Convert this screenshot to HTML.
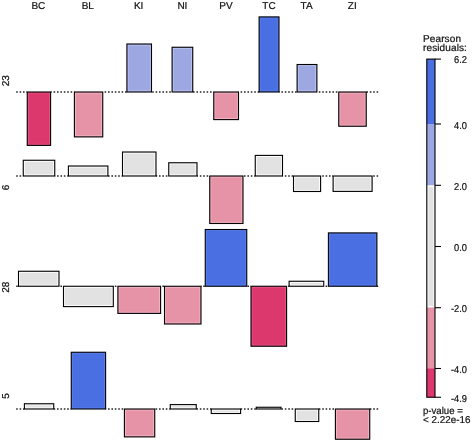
<!DOCTYPE html>
<html><head><meta charset="utf-8"><style>
html,body{margin:0;padding:0;background:#fff;}
body{width:472px;height:442px;overflow:hidden;}
svg{display:block;}
text{font-family:"Liberation Sans",sans-serif;font-size:10px;fill:#111;stroke:#111;stroke-width:0.22px;letter-spacing:0px;text-rendering:geometricPrecision;}
.t{will-change:transform;}
</style></head><body>
<svg width="472" height="442" viewBox="0 0 472 442">

<line x1="16.20" y1="92.0" x2="27.25" y2="92.0" stroke="#262626" stroke-width="1.5" stroke-dasharray="1.6 1.8" stroke-dashoffset="0.00"/>
<line x1="50.60" y1="92.0" x2="74.40" y2="92.0" stroke="#262626" stroke-width="1.5" stroke-dasharray="1.6 1.8" stroke-dashoffset="34.40"/>
<line x1="102.75" y1="92.0" x2="126.90" y2="92.0" stroke="#262626" stroke-width="1.5" stroke-dasharray="1.6 1.8" stroke-dashoffset="86.55"/>
<line x1="151.50" y1="92.0" x2="172.10" y2="92.0" stroke="#262626" stroke-width="1.5" stroke-dasharray="1.6 1.8" stroke-dashoffset="135.30"/>
<line x1="192.75" y1="92.0" x2="213.75" y2="92.0" stroke="#262626" stroke-width="1.5" stroke-dasharray="1.6 1.8" stroke-dashoffset="176.55"/>
<line x1="238.50" y1="92.0" x2="259.10" y2="92.0" stroke="#262626" stroke-width="1.5" stroke-dasharray="1.6 1.8" stroke-dashoffset="222.30"/>
<line x1="279.00" y1="92.0" x2="297.10" y2="92.0" stroke="#262626" stroke-width="1.5" stroke-dasharray="1.6 1.8" stroke-dashoffset="262.80"/>
<line x1="316.90" y1="92.0" x2="338.75" y2="92.0" stroke="#262626" stroke-width="1.5" stroke-dasharray="1.6 1.8" stroke-dashoffset="300.70"/>
<line x1="366.25" y1="92.0" x2="380.00" y2="92.0" stroke="#262626" stroke-width="1.5" stroke-dasharray="1.6 1.8" stroke-dashoffset="350.05"/>
<line x1="16.20" y1="176.0" x2="23.25" y2="176.0" stroke="#262626" stroke-width="1.5" stroke-dasharray="1.6 1.8" stroke-dashoffset="0.00"/>
<line x1="54.75" y1="176.0" x2="68.40" y2="176.0" stroke="#262626" stroke-width="1.5" stroke-dasharray="1.6 1.8" stroke-dashoffset="38.55"/>
<line x1="107.90" y1="176.0" x2="122.50" y2="176.0" stroke="#262626" stroke-width="1.5" stroke-dasharray="1.6 1.8" stroke-dashoffset="91.70"/>
<line x1="156.00" y1="176.0" x2="168.75" y2="176.0" stroke="#262626" stroke-width="1.5" stroke-dasharray="1.6 1.8" stroke-dashoffset="139.80"/>
<line x1="197.00" y1="176.0" x2="209.75" y2="176.0" stroke="#262626" stroke-width="1.5" stroke-dasharray="1.6 1.8" stroke-dashoffset="180.80"/>
<line x1="243.00" y1="176.0" x2="255.25" y2="176.0" stroke="#262626" stroke-width="1.5" stroke-dasharray="1.6 1.8" stroke-dashoffset="226.80"/>
<line x1="282.50" y1="176.0" x2="293.50" y2="176.0" stroke="#262626" stroke-width="1.5" stroke-dasharray="1.6 1.8" stroke-dashoffset="266.30"/>
<line x1="320.60" y1="176.0" x2="333.10" y2="176.0" stroke="#262626" stroke-width="1.5" stroke-dasharray="1.6 1.8" stroke-dashoffset="304.40"/>
<line x1="372.10" y1="176.0" x2="380.00" y2="176.0" stroke="#262626" stroke-width="1.5" stroke-dasharray="1.6 1.8" stroke-dashoffset="355.90"/>
<line x1="16.20" y1="286.25" x2="18.50" y2="286.25" stroke="#262626" stroke-width="1.5" stroke-dasharray="1.6 1.8" stroke-dashoffset="0.00"/>
<line x1="59.00" y1="286.25" x2="63.50" y2="286.25" stroke="#262626" stroke-width="1.5" stroke-dasharray="1.6 1.8" stroke-dashoffset="42.80"/>
<line x1="113.30" y1="286.25" x2="117.90" y2="286.25" stroke="#262626" stroke-width="1.5" stroke-dasharray="1.6 1.8" stroke-dashoffset="97.10"/>
<line x1="160.60" y1="286.25" x2="164.50" y2="286.25" stroke="#262626" stroke-width="1.5" stroke-dasharray="1.6 1.8" stroke-dashoffset="144.40"/>
<line x1="201.00" y1="286.25" x2="205.25" y2="286.25" stroke="#262626" stroke-width="1.5" stroke-dasharray="1.6 1.8" stroke-dashoffset="184.80"/>
<line x1="246.75" y1="286.25" x2="251.00" y2="286.25" stroke="#262626" stroke-width="1.5" stroke-dasharray="1.6 1.8" stroke-dashoffset="230.55"/>
<line x1="286.60" y1="286.25" x2="289.10" y2="286.25" stroke="#262626" stroke-width="1.5" stroke-dasharray="1.6 1.8" stroke-dashoffset="270.40"/>
<line x1="323.75" y1="286.25" x2="328.40" y2="286.25" stroke="#262626" stroke-width="1.5" stroke-dasharray="1.6 1.8" stroke-dashoffset="307.55"/>
<line x1="376.90" y1="286.25" x2="380.00" y2="286.25" stroke="#262626" stroke-width="1.5" stroke-dasharray="1.6 1.8" stroke-dashoffset="360.70"/>
<line x1="16.20" y1="409.0" x2="24.40" y2="409.0" stroke="#262626" stroke-width="1.5" stroke-dasharray="1.6 1.8" stroke-dashoffset="0.00"/>
<line x1="53.75" y1="409.0" x2="71.25" y2="409.0" stroke="#262626" stroke-width="1.5" stroke-dasharray="1.6 1.8" stroke-dashoffset="37.55"/>
<line x1="105.60" y1="409.0" x2="124.40" y2="409.0" stroke="#262626" stroke-width="1.5" stroke-dasharray="1.6 1.8" stroke-dashoffset="89.40"/>
<line x1="154.75" y1="409.0" x2="170.25" y2="409.0" stroke="#262626" stroke-width="1.5" stroke-dasharray="1.6 1.8" stroke-dashoffset="138.55"/>
<line x1="196.25" y1="409.0" x2="211.25" y2="409.0" stroke="#262626" stroke-width="1.5" stroke-dasharray="1.6 1.8" stroke-dashoffset="180.05"/>
<line x1="240.60" y1="409.0" x2="256.25" y2="409.0" stroke="#262626" stroke-width="1.5" stroke-dasharray="1.6 1.8" stroke-dashoffset="224.40"/>
<line x1="281.00" y1="409.0" x2="295.25" y2="409.0" stroke="#262626" stroke-width="1.5" stroke-dasharray="1.6 1.8" stroke-dashoffset="264.80"/>
<line x1="318.75" y1="409.0" x2="335.40" y2="409.0" stroke="#262626" stroke-width="1.5" stroke-dasharray="1.6 1.8" stroke-dashoffset="302.55"/>
<line x1="369.75" y1="409.0" x2="380.00" y2="409.0" stroke="#262626" stroke-width="1.5" stroke-dasharray="1.6 1.8" stroke-dashoffset="353.55"/>
<rect x="27.25" y="92" width="23.35" height="53.40" fill="#DC386E"/>
<rect x="28.35" y="93.10" width="21.15" height="51.20" fill="none" stroke="#E25582" stroke-width="0.9"/>
<rect x="27.25" y="92" width="23.35" height="53.40" fill="none" stroke="#000" stroke-width="1.1"/>
<rect x="74.4" y="92" width="28.35" height="44.90" fill="#E692A7"/>
<rect x="75.50" y="93.10" width="26.15" height="42.70" fill="none" stroke="#F2B6C6" stroke-width="0.9"/>
<rect x="74.4" y="92" width="28.35" height="44.90" fill="none" stroke="#000" stroke-width="1.1"/>
<rect x="126.9" y="44" width="24.60" height="48.00" fill="#9DA8E2"/>
<rect x="128.00" y="45.10" width="22.40" height="45.80" fill="none" stroke="#BFC6F0" stroke-width="0.9"/>
<rect x="126.9" y="44" width="24.60" height="48.00" fill="none" stroke="#000" stroke-width="1.1"/>
<rect x="172.1" y="47.25" width="20.65" height="44.75" fill="#9DA8E2"/>
<rect x="173.20" y="48.35" width="18.45" height="42.55" fill="none" stroke="#BFC6F0" stroke-width="0.9"/>
<rect x="172.1" y="47.25" width="20.65" height="44.75" fill="none" stroke="#000" stroke-width="1.1"/>
<rect x="213.75" y="92" width="24.75" height="27.60" fill="#E692A7"/>
<rect x="214.85" y="93.10" width="22.55" height="25.40" fill="none" stroke="#F2B6C6" stroke-width="0.9"/>
<rect x="213.75" y="92" width="24.75" height="27.60" fill="none" stroke="#000" stroke-width="1.1"/>
<rect x="259.1" y="16.9" width="19.90" height="75.10" fill="#4A6FE3"/>
<rect x="260.20" y="18.00" width="17.70" height="72.90" fill="none" stroke="#5A7EEA" stroke-width="0.9"/>
<rect x="259.1" y="16.9" width="19.90" height="75.10" fill="none" stroke="#000" stroke-width="1.1"/>
<rect x="297.1" y="64.5" width="19.80" height="27.50" fill="#9DA8E2"/>
<rect x="298.20" y="65.60" width="17.60" height="25.30" fill="none" stroke="#BFC6F0" stroke-width="0.9"/>
<rect x="297.1" y="64.5" width="19.80" height="27.50" fill="none" stroke="#000" stroke-width="1.1"/>
<rect x="338.75" y="92" width="27.50" height="34.25" fill="#E692A7"/>
<rect x="339.85" y="93.10" width="25.30" height="32.05" fill="none" stroke="#F2B6C6" stroke-width="0.9"/>
<rect x="338.75" y="92" width="27.50" height="34.25" fill="none" stroke="#000" stroke-width="1.1"/>
<rect x="23.25" y="160.25" width="31.50" height="15.75" fill="#E2E2E2"/>
<rect x="24.35" y="161.35" width="29.30" height="13.55" fill="none" stroke="#FFFFFF" stroke-width="0.9"/>
<rect x="23.25" y="160.25" width="31.50" height="15.75" fill="none" stroke="#000" stroke-width="1.1"/>
<rect x="68.4" y="166" width="39.50" height="10.00" fill="#E2E2E2"/>
<rect x="69.50" y="167.10" width="37.30" height="7.80" fill="none" stroke="#FFFFFF" stroke-width="0.9"/>
<rect x="68.4" y="166" width="39.50" height="10.00" fill="none" stroke="#000" stroke-width="1.1"/>
<rect x="122.5" y="152" width="33.50" height="24.00" fill="#E2E2E2"/>
<rect x="123.60" y="153.10" width="31.30" height="21.80" fill="none" stroke="#FFFFFF" stroke-width="0.9"/>
<rect x="122.5" y="152" width="33.50" height="24.00" fill="none" stroke="#000" stroke-width="1.1"/>
<rect x="168.75" y="162.75" width="28.25" height="13.25" fill="#E2E2E2"/>
<rect x="169.85" y="163.85" width="26.05" height="11.05" fill="none" stroke="#FFFFFF" stroke-width="0.9"/>
<rect x="168.75" y="162.75" width="28.25" height="13.25" fill="none" stroke="#000" stroke-width="1.1"/>
<rect x="209.75" y="176" width="33.25" height="47.50" fill="#E692A7"/>
<rect x="210.85" y="177.10" width="31.05" height="45.30" fill="none" stroke="#F2B6C6" stroke-width="0.9"/>
<rect x="209.75" y="176" width="33.25" height="47.50" fill="none" stroke="#000" stroke-width="1.1"/>
<rect x="255.25" y="155.4" width="27.25" height="20.60" fill="#E2E2E2"/>
<rect x="256.35" y="156.50" width="25.05" height="18.40" fill="none" stroke="#FFFFFF" stroke-width="0.9"/>
<rect x="255.25" y="155.4" width="27.25" height="20.60" fill="none" stroke="#000" stroke-width="1.1"/>
<rect x="293.5" y="176" width="27.10" height="15.50" fill="#E2E2E2"/>
<rect x="294.60" y="177.10" width="24.90" height="13.30" fill="none" stroke="#FFFFFF" stroke-width="0.9"/>
<rect x="293.5" y="176" width="27.10" height="15.50" fill="none" stroke="#000" stroke-width="1.1"/>
<rect x="333.1" y="176" width="39.00" height="15.40" fill="#E2E2E2"/>
<rect x="334.20" y="177.10" width="36.80" height="13.20" fill="none" stroke="#FFFFFF" stroke-width="0.9"/>
<rect x="333.1" y="176" width="39.00" height="15.40" fill="none" stroke="#000" stroke-width="1.1"/>
<rect x="18.5" y="271.25" width="40.50" height="15.00" fill="#E2E2E2"/>
<rect x="19.60" y="272.35" width="38.30" height="12.80" fill="none" stroke="#FFFFFF" stroke-width="0.9"/>
<rect x="18.5" y="271.25" width="40.50" height="15.00" fill="none" stroke="#000" stroke-width="1.1"/>
<rect x="63.5" y="286.25" width="49.80" height="20.35" fill="#E2E2E2"/>
<rect x="64.60" y="287.35" width="47.60" height="18.15" fill="none" stroke="#FFFFFF" stroke-width="0.9"/>
<rect x="63.5" y="286.25" width="49.80" height="20.35" fill="none" stroke="#000" stroke-width="1.1"/>
<rect x="117.9" y="286.25" width="42.70" height="27.15" fill="#E692A7"/>
<rect x="119.00" y="287.35" width="40.50" height="24.95" fill="none" stroke="#F2B6C6" stroke-width="0.9"/>
<rect x="117.9" y="286.25" width="42.70" height="27.15" fill="none" stroke="#000" stroke-width="1.1"/>
<rect x="164.5" y="286.25" width="36.50" height="37.75" fill="#E692A7"/>
<rect x="165.60" y="287.35" width="34.30" height="35.55" fill="none" stroke="#F2B6C6" stroke-width="0.9"/>
<rect x="164.5" y="286.25" width="36.50" height="37.75" fill="none" stroke="#000" stroke-width="1.1"/>
<rect x="205.25" y="229.5" width="41.50" height="56.75" fill="#4A6FE3"/>
<rect x="206.35" y="230.60" width="39.30" height="54.55" fill="none" stroke="#5A7EEA" stroke-width="0.9"/>
<rect x="205.25" y="229.5" width="41.50" height="56.75" fill="none" stroke="#000" stroke-width="1.1"/>
<rect x="251" y="286.25" width="35.60" height="60.00" fill="#DC386E"/>
<rect x="252.10" y="287.35" width="33.40" height="57.80" fill="none" stroke="#E25582" stroke-width="0.9"/>
<rect x="251" y="286.25" width="35.60" height="60.00" fill="none" stroke="#000" stroke-width="1.1"/>
<rect x="289.1" y="281.25" width="34.65" height="5.00" fill="#E2E2E2"/>
<rect x="290.20" y="282.35" width="32.45" height="2.80" fill="none" stroke="#FFFFFF" stroke-width="0.9"/>
<rect x="289.1" y="281.25" width="34.65" height="5.00" fill="none" stroke="#000" stroke-width="1.1"/>
<rect x="328.4" y="232.9" width="48.50" height="53.35" fill="#4A6FE3"/>
<rect x="329.50" y="234.00" width="46.30" height="51.15" fill="none" stroke="#5A7EEA" stroke-width="0.9"/>
<rect x="328.4" y="232.9" width="48.50" height="53.35" fill="none" stroke="#000" stroke-width="1.1"/>
<rect x="24.4" y="403.75" width="29.35" height="5.25" fill="#E2E2E2"/>
<rect x="25.50" y="404.85" width="27.15" height="3.05" fill="none" stroke="#FFFFFF" stroke-width="0.9"/>
<rect x="24.4" y="403.75" width="29.35" height="5.25" fill="none" stroke="#000" stroke-width="1.1"/>
<rect x="71.25" y="352.25" width="34.35" height="56.75" fill="#4A6FE3"/>
<rect x="72.35" y="353.35" width="32.15" height="54.55" fill="none" stroke="#5A7EEA" stroke-width="0.9"/>
<rect x="71.25" y="352.25" width="34.35" height="56.75" fill="none" stroke="#000" stroke-width="1.1"/>
<rect x="124.4" y="409" width="30.35" height="27.90" fill="#E692A7"/>
<rect x="125.50" y="410.10" width="28.15" height="25.70" fill="none" stroke="#F2B6C6" stroke-width="0.9"/>
<rect x="124.4" y="409" width="30.35" height="27.90" fill="none" stroke="#000" stroke-width="1.1"/>
<rect x="170.25" y="404.6" width="26.00" height="4.40" fill="#E2E2E2"/>
<rect x="171.35" y="405.70" width="23.80" height="2.20" fill="none" stroke="#FFFFFF" stroke-width="0.9"/>
<rect x="170.25" y="404.6" width="26.00" height="4.40" fill="none" stroke="#000" stroke-width="1.1"/>
<rect x="211.25" y="409" width="29.35" height="4.50" fill="#E2E2E2"/>
<rect x="212.35" y="410.10" width="27.15" height="2.30" fill="none" stroke="#FFFFFF" stroke-width="0.9"/>
<rect x="211.25" y="409" width="29.35" height="4.50" fill="none" stroke="#000" stroke-width="1.1"/>
<rect x="256.25" y="407.25" width="24.75" height="1.75" fill="#E2E2E2"/>
<rect x="256.25" y="407.25" width="24.75" height="1.75" fill="none" stroke="#000" stroke-width="1.1"/>
<rect x="295.25" y="409" width="23.50" height="12.50" fill="#E2E2E2"/>
<rect x="296.35" y="410.10" width="21.30" height="10.30" fill="none" stroke="#FFFFFF" stroke-width="0.9"/>
<rect x="295.25" y="409" width="23.50" height="12.50" fill="none" stroke="#000" stroke-width="1.1"/>
<rect x="335.4" y="409" width="34.35" height="30.25" fill="#E692A7"/>
<rect x="336.50" y="410.10" width="32.15" height="28.05" fill="none" stroke="#F2B6C6" stroke-width="0.9"/>
<rect x="335.4" y="409" width="34.35" height="30.25" fill="none" stroke="#000" stroke-width="1.1"/>
<g class="t" opacity="0.999">
<text transform="translate(38.4,9.2) scale(1,1)" text-anchor="middle">BC</text>
<text transform="translate(87.8,9.2) scale(1,1)" text-anchor="middle">BL</text>
<text transform="translate(138.6,9.2) scale(1,1)" text-anchor="middle">KI</text>
<text transform="translate(182.4,9.2) scale(1,1)" text-anchor="middle">NI</text>
<text transform="translate(226.0,9.2) scale(1,1)" text-anchor="middle">PV</text>
<text transform="translate(269.0,9.2) scale(1,1)" text-anchor="middle">TC</text>
<text transform="translate(306.6,9.2) scale(1,1)" text-anchor="middle">TA</text>
<text transform="translate(352.3,9.2) scale(1,1)" text-anchor="middle">ZI</text>
<text transform="translate(9.4,80.8) rotate(-90) scale(1,1)" text-anchor="middle">23</text>
<text transform="translate(9.4,187.4) rotate(-90) scale(1,1)" text-anchor="middle">6</text>
<text transform="translate(9.4,287.2) rotate(-90) scale(1,1)" text-anchor="middle">28</text>
<text transform="translate(9.4,396.0) rotate(-90) scale(1,1)" text-anchor="middle">5</text>
<text transform="translate(423,41.8)" style="letter-spacing:0.12px">Pearson</text>
<text transform="translate(423,51.2)" style="letter-spacing:0.12px">residuals:</text>
<rect x="426.8" y="59.1" width="8.2" height="64.90" fill="#4A6FE3"/>
<rect x="426.8" y="124" width="8.2" height="61.30" fill="#9DA8E2"/>
<rect x="426.8" y="185.3" width="8.2" height="122.30" fill="#E2E2E2"/>
<rect x="426.8" y="307.6" width="8.2" height="60.70" fill="#E692A7"/>
<rect x="426.8" y="368.3" width="8.2" height="28.95" fill="#DC386E"/>
<rect x="427.9" y="186.4" width="6.0" height="120.1" fill="none" stroke="#fff" stroke-width="0.9"/>
<rect x="426.8" y="59.1" width="8.2" height="338.15" fill="none" stroke="#000" stroke-width="1.1"/>
<line x1="435" y1="59.1" x2="441" y2="59.1" stroke="#000" stroke-width="1.1"/>
<text transform="translate(467,63.4) scale(0.93,1)" text-anchor="end">6.2</text>
<line x1="435" y1="124" x2="441" y2="124" stroke="#000" stroke-width="1.1"/>
<text transform="translate(467,129.3) scale(0.93,1)" text-anchor="end">4.0</text>
<line x1="435" y1="185.3" x2="441" y2="185.3" stroke="#000" stroke-width="1.1"/>
<text transform="translate(467,190.3) scale(0.93,1)" text-anchor="end">2.0</text>
<line x1="435" y1="246.5" x2="441" y2="246.5" stroke="#000" stroke-width="1.1"/>
<text transform="translate(467,251.1) scale(0.93,1)" text-anchor="end">0.0</text>
<line x1="435" y1="307.7" x2="441" y2="307.7" stroke="#000" stroke-width="1.1"/>
<text transform="translate(467,312.0) scale(0.93,1)" text-anchor="end">-2.0</text>
<line x1="435" y1="368.5" x2="441" y2="368.5" stroke="#000" stroke-width="1.1"/>
<text transform="translate(467,372.6) scale(0.93,1)" text-anchor="end">-4.0</text>
<line x1="435" y1="397.25" x2="441" y2="397.25" stroke="#000" stroke-width="1.1"/>
<text transform="translate(467,401.8) scale(0.93,1)" text-anchor="end">-4.9</text>
<text transform="translate(423,414) scale(0.96,1)">p-value =</text>
<text transform="translate(423,423.1) scale(0.985,1)">&lt; 2.22e-16</text>
</g>
</svg>
</body></html>
